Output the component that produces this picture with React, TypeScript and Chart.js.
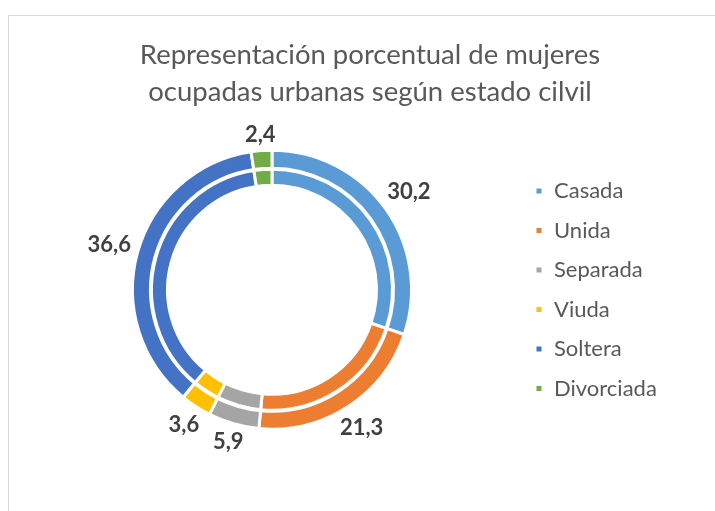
import React, { useEffect, useRef } from "react";
import { Chart, registerables } from "chart.js";

Chart.register(...registerables);

const TITLE_LINES = [
  "Representación porcentual de mujeres",
  "ocupadas urbanas según estado cilvil",
];
const CATEGORIES = ["Casada", "Unida", "Separada", "Viuda", "Soltera", "Divorciada"];
const OUTER_VALUES = [30.2, 21.3, 5.9, 3.6, 36.6, 2.4];
const INNER_VALUES = [30.2, 21.3, 5.9, 3.6, 36.6, 2.4];
const COLORS = ["#5B9BD5", "#ED7D31", "#A5A5A5", "#FFC000", "#4472C4", "#70AD47"];

const LEGEND_WIDTH = 196;

const legendWidthPlugin = {
  id: "legendWidth",
  beforeLayout(chart: any) {
    const lg: any = chart.legend;
    if (lg && !lg.__patched) {
      const orig = lg.fit.bind(lg);
      lg.fit = () => {
        orig();
        lg.width = LEGEND_WIDTH;
      };
      lg.__patched = true;
    }
  },
};

const dataLabelPlugin = {
  id: "dataLabels",
  afterDatasetsDraw(chart: any) {
    const ctx = chart.ctx;
    const meta = chart.getDatasetMeta(0);
    const ds = chart.data.datasets[0];
    ctx.save();
    ctx.font = "bold 22px Lato";
    ctx.fillStyle = "#404040";
    ctx.textAlign = "center";
    ctx.textBaseline = "middle";
    const h = 18;
    const d = 6;
    meta.data.forEach((arc: any, i: number) => {
      const { x, y, startAngle, endAngle, outerRadius } = arc.getProps(
        ["x", "y", "startAngle", "endAngle", "outerRadius"],
        true
      );
      const a = (startAngle + endAngle) / 2;
      const text = Number(ds.data[i]).toFixed(1).replace(".", ",");
      const w = ctx.measureText(text).width;
      const r =
        outerRadius + d + Math.abs(Math.cos(a)) * (w / 2) + Math.abs(Math.sin(a)) * (h / 2);
      ctx.fillText(text, x + Math.cos(a) * r, y + Math.sin(a) * r);
    });
    ctx.restore();
  },
};

export default function App() {
  const ref = useRef<HTMLCanvasElement | null>(null);

  useEffect(() => {
    if (!ref.current) return;
    const chart = new Chart(ref.current, {
      type: "doughnut",
      data: {
        labels: CATEGORIES,
        datasets: [
          {
            data: OUTER_VALUES,
            backgroundColor: COLORS,
            borderColor: "#ffffff",
            borderWidth: 3,
            weight: 18,
          },
          {
            data: [1],
            backgroundColor: "rgba(0,0,0,0)",
            borderWidth: 0,
            weight: 1,
          },
          {
            data: INNER_VALUES,
            backgroundColor: COLORS,
            borderColor: "#ffffff",
            borderWidth: 3,
            weight: 16,
          },
        ],
      },
      options: {
        responsive: false,
        animation: false,
        radius: 139.5,
        cutout: "74.9%",
        layout: { padding: { left: 17.5, right: 1.5, top: 0, bottom: 68 } },
        plugins: {
          title: {
            display: true,
            text: TITLE_LINES,
            color: "#595959",
            font: { family: "Lato", size: 27.5, weight: "normal", lineHeight: 1.36 },
            padding: { top: 20, bottom: 25.6 },
          },
          legend: {
            position: "right",
            align: "center",
            fullSize: false,
            labels: {
              boxWidth: 8,
              boxHeight: 8,
              padding: 17.5,
              color: "#595959",
              font: { family: "Lato", size: 22 },
            },
          },
          tooltip: { enabled: false },
        },
      } as any,
      plugins: [legendWidthPlugin, dataLabelPlugin],
    });
    return () => chart.destroy();
  }, []);

  return (
    <div
      style={{
        position: "fixed",
        left: 8,
        top: 15,
        width: 707,
        height: 496,
        boxSizing: "border-box",
        borderTop: "1px solid #d9d9d9",
        borderLeft: "1px solid #d9d9d9",
        overflow: "hidden",
        background: "#ffffff",
      }}
    >
      <canvas ref={ref} width={706} height={495} style={{ display: "block" }} />
    </div>
  );
}
